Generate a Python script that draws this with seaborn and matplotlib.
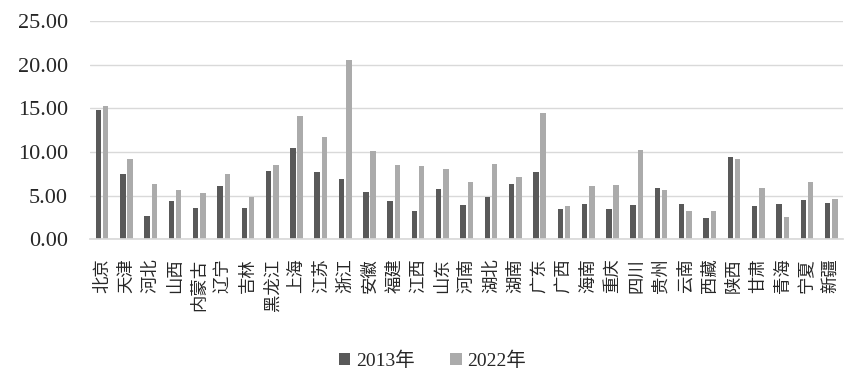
import matplotlib
matplotlib.use("Agg")
import matplotlib.pyplot as plt
import seaborn as sns
import pandas as pd

# provinces et valeurs
provinces = ["北京", "天津", "河北", "山西", "内蒙古", "辽宁", "吉林", "黑龙江", "上海", "江苏",
             "浙江", "安徽", "福建", "江西", "山东", "河南", "湖北", "湖南", "广东", "广西",
             "海南", "重庆", "四川", "贵州", "云南", "西藏", "陕西", "甘肃", "青海", "宁夏", "新疆"]
v2013 = [14.79, 7.45, 2.64, 4.36, 3.56, 6.08, 3.56, 7.80, 10.44, 7.68,
         6.88, 5.39, 4.36, 3.21, 5.73, 3.90, 4.82, 6.31, 7.68, 3.44,
         4.01, 3.44, 3.90, 5.85, 4.01, 2.41, 9.40, 3.78, 4.01, 4.47, 4.13]
v2022 = [15.25, 9.17, 6.31, 5.62, 5.28, 7.45, 4.82, 8.49, 14.11, 11.70,
         20.53, 10.09, 8.49, 8.37, 8.03, 6.54, 8.60, 7.11, 14.45, 3.78,
         6.08, 6.19, 10.21, 5.62, 3.21, 3.21, 9.17, 5.85, 2.52, 6.54, 4.59]
annees = ["2013年", "2022年"]

df = pd.DataFrame({
    "province": provinces * 2,
    "valeur": v2013 + v2022,
    "annee": [annees[0]] * len(provinces) + [annees[1]] * len(provinces),
})

sns.set_theme(style="white")
plt.rcParams["font.family"] = ["Liberation Serif", "Noto Sans CJK SC"]

fig = plt.figure(figsize=(8.65, 3.92), dpi=100)
ax = fig.add_axes([0.104, 0.39, 0.871, 0.556])

sns.barplot(data=df, x="province", y="valeur", hue="annee",
            palette=["#595959", "#ababab"], width=0.6, gap=0.25,
            ax=ax, legend=True, saturation=1, linewidth=0)

ax.set_ylim(0, 25)
ax.set_xlim(-0.5, len(provinces) - 0.5)
ax.set_yticks([0, 5, 10, 15, 20, 25])
ax.set_yticklabels([f"{t:.2f}" for t in [0, 5, 10, 15, 20, 25]], fontsize=16)
ax.grid(axis="y", color="#d9d9d9", linewidth=1)
ax.set_axisbelow(True)
for s in ["top", "right", "left"]:
    ax.spines[s].set_visible(False)
ax.spines["bottom"].set_color("#d9d9d9")
ax.tick_params(axis="y", length=0, pad=16)
ax.tick_params(axis="x", length=0, pad=14)
ax.set_xticks(range(len(provinces)))
ax.set_xticklabels(provinces, rotation=90, fontsize=12.5,
                   family=["Noto Sans CJK SC"], va="top", ha="center")
ax.set_xlabel("")
ax.set_ylabel("")

ax.legend_.remove()
handles, labels = ax.get_legend_handles_labels()
fig.legend(handles, labels, loc="center", bbox_to_anchor=(0.5, 0.08), ncol=2,
           frameon=False, fontsize=14, handlelength=0.6, handleheight=0.6,
           columnspacing=1.8, handletextpad=0.3)

plt.savefig("out.png", dpi=100)
